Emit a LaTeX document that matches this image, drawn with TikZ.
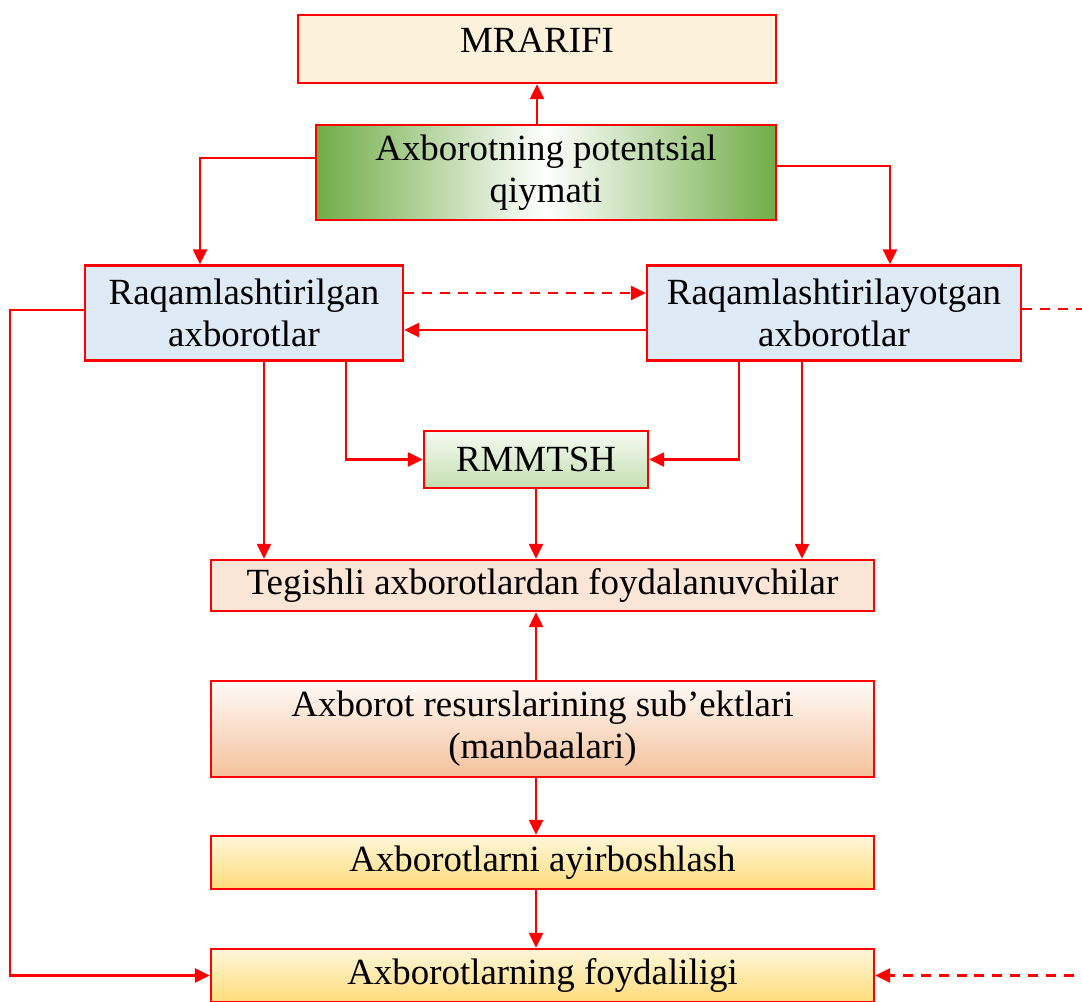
\documentclass[tikz,border=0pt]{standalone}
\usepackage{fontspec}
\setmainfont{Liberation Serif}
\usepackage{tikz}
\usetikzlibrary{arrows.meta}
\definecolor{boxred}{RGB}{255,0,0}
\definecolor{beige}{RGB}{252,241,218}
\definecolor{leaf}{RGB}{112,173,71}
\definecolor{paleblue}{RGB}{222,235,247}
\definecolor{palegreen}{RGB}{195,223,176}
\definecolor{peach}{RGB}{251,229,214}
\definecolor{apricot}{RGB}{245,193,155}
\definecolor{paleyellow}{RGB}{255,246,218}
\definecolor{honey}{RGB}{255,220,122}
\tikzset{
	blok/.style={draw=boxred, line width=1.4pt, inner sep=0pt, align=center, text=black, font=\fontsize{21}{24}\selectfont},
	arr/.style={draw=boxred, line width=1.4pt, -{Triangle[length=0.3cm,width=0.28cm]}},
	dashline/.style={dash pattern=on 0.2cm off 0.16cm}
}

\begin{document}
\begin{tikzpicture}[x=0.02cm, y=-0.02cm]
				\useasboundingbox (0,0) rectangle (1082,1001);
				\clip (0,0) rectangle (1082,1001);
				
				\node[blok, fill=beige, minimum width=9.56cm, minimum height=1.36cm, text depth=0.35cm] (mrarifi) at (537,49) {MRARIFI};
				\node[blok, left color=leaf, right color=leaf, middle color=white, minimum width=9.2cm, minimum height=1.9cm] (potent) at (546,172.5) {Axborotning potentsial\\qiymati};
				
				\node[blok, fill=paleblue, minimum width=6.36cm, minimum height=1.9cm] (raq1) at (244,313) {Raqamlashtirilgan\\axborotlar};
				\node[blok, fill=paleblue, minimum width=7.48cm, minimum height=1.9cm] (raq2) at (834,313) {Raqamlashtirilayotgan\\axborotlar};
				
				\node[blok, top color=white!85!palegreen, bottom color=palegreen, minimum width=4.48cm, minimum height=1.14cm] (rmmtsh) at (536,459.5) {RMMTSH};
				
				\node[blok, fill=peach, minimum width=13.26cm, minimum height=1.02cm] (tegishli) at (542.5,585.5) {Tegishli axborotlardan foydalanuvchilar};
				\node[blok, top color=white!92!apricot, bottom color=apricot, minimum width=13.26cm, minimum height=1.92cm] (subekt) at (542.5,729) {Axborot resurslarining sub’ektlari\\(manbaalari)};
				\node[blok, top color=paleyellow, bottom color=honey, minimum width=13.26cm, minimum height=1.06cm] (ayir) at (542.5,862.5) {Axborotlarni ayirboshlash};
				\node[blok, top color=paleyellow, bottom color=honey, minimum width=13.26cm, minimum height=1.06cm] (foyd) at (542.5,975.5) {Axborotlarning foydaliligi};
				
				\coordinate (leftrail) at (10,0);
				\coordinate (rightrail) at (1120,0);
				
				\draw[arr] (potent.north -| mrarifi.south) -- (mrarifi.south);
				\draw[arr] ([yshift=0.29cm]potent.west) -| ([xshift=-0.88cm]raq1.north);
				\draw[arr] ([yshift=0.13cm]potent.east) -| ([xshift=1.12cm]raq2.north);
				
				\draw[arr, dashline] ([yshift=0.4cm]raq1.east) -- ([yshift=0.4cm]raq2.west);
				\draw[arr] ([yshift=-0.34cm]raq2.west) -- ([yshift=-0.34cm]raq1.east);
				
				\draw[arr] ([yshift=0.06cm]raq1.west) -- ([yshift=0.06cm]raq1.west -| leftrail) |- (foyd.west);
				\draw[arr, dashline] ([yshift=0.08cm]raq2.east) -- ([yshift=0.08cm]raq2.east -| rightrail) |- (foyd.east);
				
				\draw[arr] ([xshift=0.4cm]raq1.south) -- ([xshift=0.4cm]raq1.south |- tegishli.north);
				\draw[arr] ([xshift=2.04cm]raq1.south) |- (rmmtsh.west);
				\draw[arr] ([xshift=-1.9cm]raq2.south) |- (rmmtsh.east);
				\draw[arr] ([xshift=-0.64cm]raq2.south) -- ([xshift=-0.64cm]raq2.south |- tegishli.north);
				\draw[arr] (rmmtsh.south) -- (rmmtsh.south |- tegishli.north);
				
				\draw[arr] (rmmtsh.south |- subekt.north) -- (rmmtsh.south |- tegishli.south);
				\draw[arr] (rmmtsh.south |- subekt.south) -- (rmmtsh.south |- ayir.north);
				\draw[arr] (rmmtsh.south |- ayir.south) -- (rmmtsh.south |- foyd.north);
			\end{tikzpicture}
\end{document}
